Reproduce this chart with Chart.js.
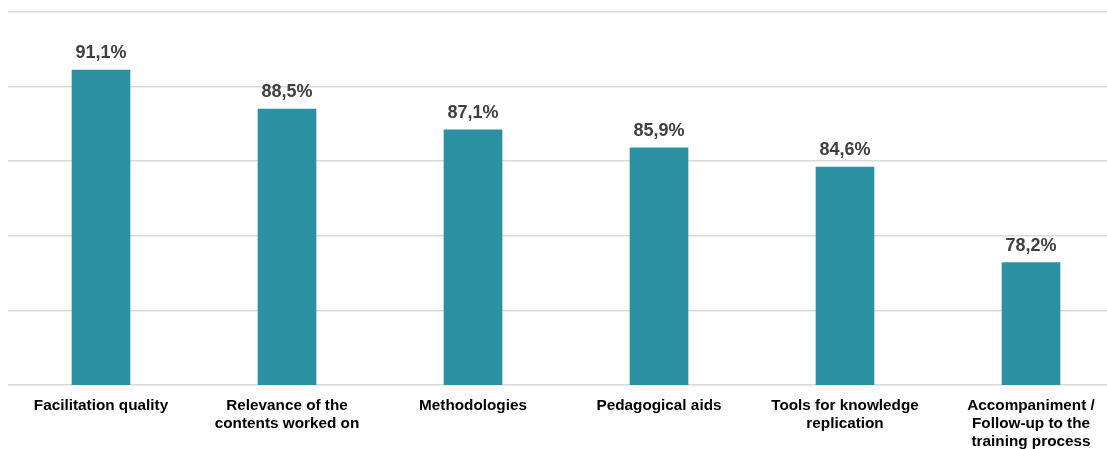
<!DOCTYPE html>
<html>
<head>
<meta charset="utf-8">
<script src="https://cdn.jsdelivr.net/npm/chart.js@4"></script>
<style>
    html, body { margin: 0; padding: 0; background: #fff; overflow: hidden; }
    #wrap { position: relative; width: 1124px; height: 449px; }
</style>
</head>
<body>
<div id="wrap"><canvas id="chart"></canvas></div>
<script>
// Chart data
const categories = [
    'Facilitation quality',
    ['Relevance of the', 'contents worked on'],
    'Methodologies',
    'Pedagogical aids',
    ['Tools for knowledge', 'replication'],
    ['Accompaniment /', 'Follow-up to the', 'training process']
];
const satisfaction = [91.1, 88.5, 87.1, 85.9, 84.6, 78.2];
const yMin = 70;
const yMax = 95;
const yStep = 5;

// Draw the value above each bar
const valueLabels = {
    id: 'valueLabels',
    afterDatasetsDraw(chart) {
        const ctx = chart.ctx;
        const meta = chart.getDatasetMeta(0);
        ctx.save();
        ctx.font = 'bold 18px "Liberation Sans", Arial, sans-serif';
        ctx.fillStyle = '#404040';
        ctx.textAlign = 'center';
        ctx.textBaseline = 'alphabetic';
        meta.data.forEach((bar, i) => {
            const txt = satisfaction[i].toFixed(1).replace('.', ',') + '%';
            ctx.fillText(txt, bar.x, bar.y - 12);
        });
        ctx.restore();
    }
};

const ctx = document.getElementById('chart').getContext('2d');
new Chart(ctx, {
    type: 'bar',
    data: {
        labels: categories,
        datasets: [{
            data: satisfaction,
            backgroundColor: '#2b90a1',
            borderWidth: 0,
            barThickness: 58
        }]
    },
    options: {
        responsive: true,
        maintainAspectRatio: false,
        animation: false,
        layout: { padding: { top: 12, left: 8, right: 0, bottom: 0 } },
        plugins: {
            legend: { display: false },
            tooltip: { enabled: false }
        },
        scales: {
            x: {
                grid: { display: false },
                border: { display: false },
                ticks: {
                    color: '#000',
                    padding: 4,
                    maxRotation: 0,
                    autoSkip: false,
                    font: { family: '"Liberation Sans", Arial, sans-serif', size: 15.3, weight: 'bold', lineHeight: 1.18 }
                },
                afterFit: (scale) => { scale.height = 64; }
            },
            y: {
                min: yMin,
                max: yMax,
                ticks: { display: false, stepSize: yStep },
                grid: { color: '#d9d9d9', lineWidth: 1.5, drawTicks: false },
                border: { display: false },
                afterFit: (scale) => { scale.width = 0; }
            }
        }
    },
    plugins: [valueLabels]
});
</script>
</body>
</html>
